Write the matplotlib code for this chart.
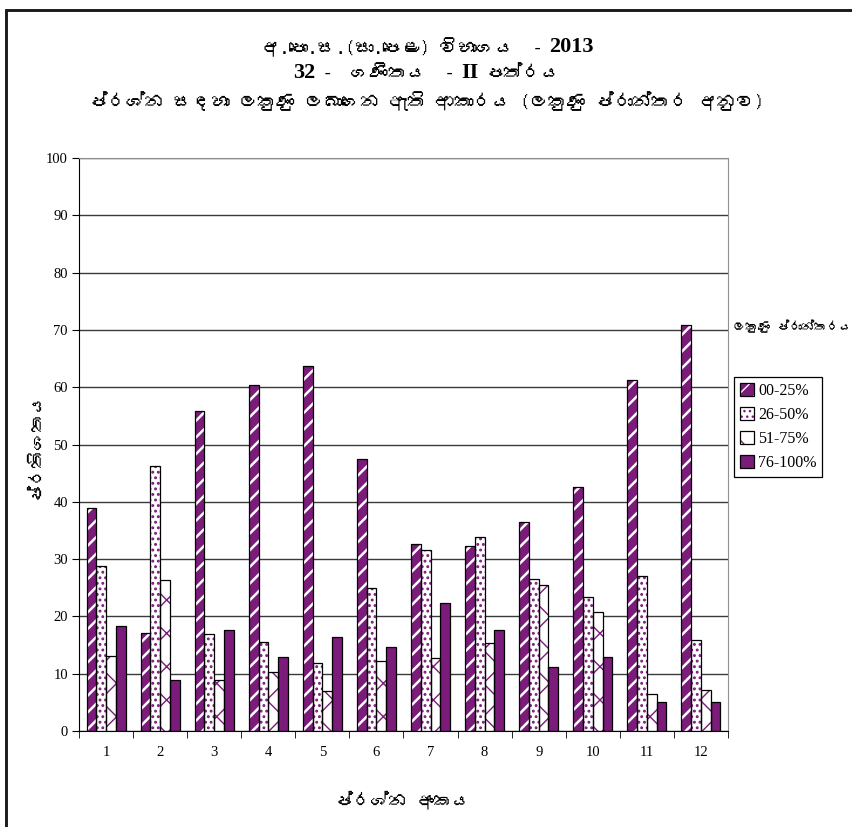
import matplotlib
matplotlib.use("Agg")
import matplotlib.pyplot as plt
import numpy as np
from matplotlib import font_manager
from matplotlib.ft2font import FT2Font
from matplotlib.lines import Line2D
from matplotlib.patches import Patch

# Data
questions = ['1', '2', '3', '4', '5', '6', '7', '8', '9', '10', '11', '12']
band_labels = ['00-25%', '26-50%', '51-75%', '76-100%']
band_00_25 = [38.9, 17.1, 55.9, 60.4, 63.7, 47.4, 32.7, 32.3, 36.5, 42.5, 61.2, 70.9]
band_26_50 = [28.8, 46.3, 17.0, 15.6, 11.8, 24.9, 31.6, 33.9, 26.5, 23.3, 27.0, 15.8]
band_51_75 = [13.1, 26.3, 8.9, 10.3, 6.9, 12.2, 12.7, 15.4, 25.4, 20.8, 6.4, 7.2]
band_76_100 = [18.4, 8.9, 17.7, 12.9, 16.4, 14.6, 22.3, 17.7, 11.1, 12.9, 5.0, 5.0]

W, H = 853, 827
PURPLE = '#7b1c7b'


def find_sinhala_font():
    """Return the name of an installed font that covers Sinhala, or None"""
    for f in font_manager.fontManager.ttflist:
        try:
            cmap = FT2Font(f.fname).get_charmap()
        except Exception:
            continue
        if 0x0D9A in cmap and 0x0DCA in cmap:
            return f.name
    return None


sinhala = find_sinhala_font()
SIN = [sinhala, 'Liberation Serif', 'DejaVu Sans'] if sinhala else ['Liberation Serif', 'DejaVu Sans']
SERIF = ['Liberation Serif', 'DejaVu Serif']

fig = plt.figure(figsize=(W / 100, H / 100), dpi=100)
ax = fig.add_axes([79 / W, 1 - 731 / H, (728 - 79) / W, (731 - 158) / H])

x = np.arange(len(questions))
bw = 0.18
series = [band_00_25, band_26_50, band_51_75, band_76_100]
# (face, hatch colour, hatch, hatch linewidth)
styles = [
    (PURPLE, 'white', '//', 1.8),
    ('white', PURPLE, '...', 1.3),
    ('white', PURPLE, 'x', 1.0),
    (PURPLE, PURPLE, None, 1.0),
]

handles = []
for i, (vals, (fc, hc, hatch, hlw)) in enumerate(zip(series, styles)):
    pos = x + (i - 1.5) * bw
    plt.rcParams['hatch.linewidth'] = hlw
    fill = ax.bar(pos, vals, bw, color=fc, edgecolor=hc, hatch=hatch, linewidth=0, zorder=2)
    for p in fill:
        if hasattr(p, 'set_hatch_linewidth'):
            p.set_hatch_linewidth(hlw)
    ax.bar(pos, vals, bw, fill=False, edgecolor='black', linewidth=0.9, zorder=3)
    hf = Patch(facecolor=fc, edgecolor=hc, hatch=hatch, linewidth=0)
    if hasattr(hf, 'set_hatch_linewidth'):
        hf.set_hatch_linewidth(hlw)
    ho = Patch(fill=False, edgecolor='black', linewidth=0.9)
    handles.append((hf, ho))

ax.set_xlim(-0.5, len(questions) - 0.5)
ax.set_ylim(0, 100)
ax.set_yticks(np.arange(0, 101, 10))
ax.set_xticks(x)
ax.set_xticklabels(questions)
ax.set_xticks(np.arange(-0.5, len(questions)), minor=True)
ax.tick_params(axis='x', which='major', length=0, pad=11)
ax.tick_params(axis='x', which='minor', length=5, direction='out')
ax.tick_params(axis='y', length=5, direction='out', pad=3)
for lab in ax.get_xticklabels() + ax.get_yticklabels():
    lab.set_family(SERIF)
    lab.set_fontsize(10.5)
ax.grid(axis='y', color='#3a3a3a', linewidth=1.0, zorder=0)
ax.set_axisbelow(True)
for s in ['top', 'right']:
    ax.spines[s].set_color('#909090')
for s in ['left', 'bottom']:
    ax.spines[s].set_color('black')

leg = fig.legend(handles, band_labels, loc='upper left',
                 bbox_to_anchor=(734 / W, 1 - 377 / H),
                 prop={'family': SERIF, 'size': 11.5},
                 handlelength=0.9, handleheight=0.9, handletextpad=0.25,
                 labelspacing=0.5, borderpad=0.35, borderaxespad=0,
                 fancybox=False, framealpha=1)
leg.get_frame().set_edgecolor('black')
leg.get_frame().set_linewidth(0.9)

fig.text(733 / W, 1 - 326 / H, 'ලකුණු ප්රාන්තරය', family=SIN, fontsize=9,
         ha='left', va='center')
fig.text(35 / W, 1 - 445 / H, 'ප්රතිශතය', family=SIN, fontsize=13,
         rotation=90, ha='center', va='center')
fig.text(403 / W, 1 - 800 / H, 'ප්රශ්න අංකය', family=SIN, fontsize=13,
         ha='center', va='center')

# Title, bold numbers mixed with regular Sinhala text
title_lines = [
    (47, [('අ.පො.ස.(සා.පෙළ) විභාගය  -', False), ('2013', True)]),
    (73, [('32', True), ('-  ගණිතය  -', False), ('II', True), ('පත්රය', False)]),
    (101, [('ප්රශ්න සඳහා ලකුණු ලබාගෙන ඇති ආකාරය (ලකුණු ප්රාන්තර අනුව)', False)]),
]
renderer = fig.canvas.get_renderer()
gap = 7
for ypx, runs in title_lines:
    texts = []
    for s, bold in runs:
        fam = SERIF if bold else SIN
        t = fig.text(0, 1 - ypx / H, s, family=fam, fontsize=16 if bold else 13.5,
                     fontweight='bold' if bold else 'normal', va='center', ha='left')
        texts.append(t)
    widths = [t.get_window_extent(renderer).width for t in texts]
    xpos = 427 - (sum(widths) + gap * (len(widths) - 1)) / 2
    for t, w in zip(texts, widths):
        t.set_x(xpos / W)
        xpos += w + gap

# Outer frame: only the left and top edges are inside the picture
fig.add_artist(Line2D([6 / W, 6 / W, 1.0], [0.0, 1 - 9.5 / H, 1 - 9.5 / H],
                      color='#1a1a1a', linewidth=2.1, solid_joinstyle='miter',
                      transform=fig.transFigure))

fig.savefig('out.png', dpi=100)
